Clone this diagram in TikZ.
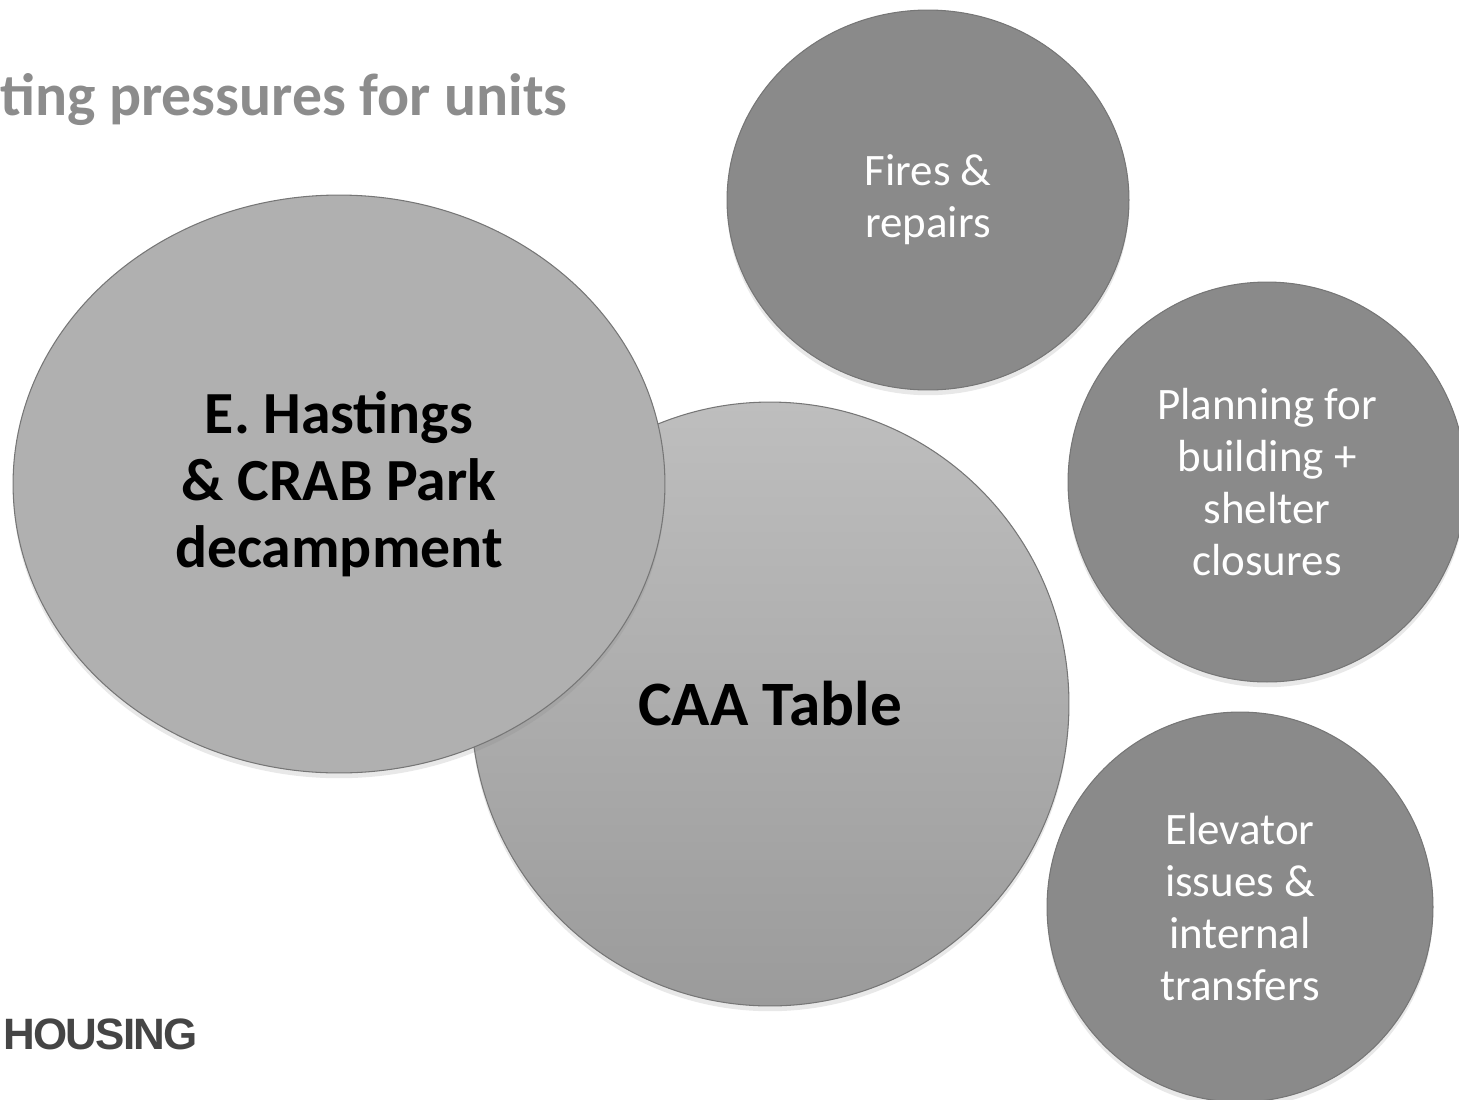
\documentclass[tikz,border=0pt]{standalone}
\usepackage{fontspec}
\setmainfont{Carlito}
\newfontfamily\housingfont[LetterSpace=-4]{Liberation Sans}
\usetikzlibrary{shapes.geometric,shadows}

\definecolor{bubblegray}{HTML}{8A8A8A}
\definecolor{bubbleedge}{HTML}{767676}
\definecolor{hastingsgray}{HTML}{B0B0B0}
\definecolor{caatop}{HTML}{BEBEBE}
\definecolor{caabottom}{HTML}{9B9B9B}
\definecolor{titlegray}{HTML}{8C8C8C}
\definecolor{housinggray}{HTML}{454545}

\tikzset{
  bubble/.style={ellipse, draw=bubbleedge, line width=0.6pt, inner sep=0pt, align=center,
    drop shadow={opacity=0.18, shadow xshift=0pt, shadow yshift=-3pt}},
  pressure/.style={bubble, fill=bubblegray, text=white, font=\fontsize{25.6}{29.5}\selectfont},
  bigbubble/.style={bubble, text=black, font=\fontsize{34}{38}\selectfont\bfseries}
}

\begin{document}
\begin{tikzpicture}[x=0.02cm, y=-0.02cm]
\useasboundingbox (0,0) rectangle (1459,1099);

% title and footer
\node (title) [anchor=base west, inner sep=0pt, text=titlegray, font=\fontsize{34}{38}\selectfont\bfseries] at (0,115) {ting pressures for units};
\node (housing) [anchor=base west, inner sep=0pt, text=housinggray, font=\housingfont\fontsize{25}{28}\selectfont\bfseries] at (3,1049) {HOUSING};

% the two big bubbles
\node (caa) [bigbubble, top color=caatop, bottom color=caabottom, minimum width=11.96cm, minimum height=12.08cm] at (770,704) {\fontsize{36}{40}\selectfont CAA Table};
\node (hastings) [bigbubble, fill=hastingsgray, minimum width=13.04cm, minimum height=11.56cm] at (339,484) {E. Hastings\\\& CRAB Park\\decampment};

% the smaller pressures
\node (fires) [pressure, minimum width=8.04cm, minimum height=7.6cm] at (928,200) {Fires \&\\repairs};
\node (planning) [pressure, minimum width=7.96cm, minimum height=8cm] at (1267,482) {Planning for\\building +\\shelter\\closures};
\node (elevator) [pressure, minimum width=7.72cm, minimum height=7.8cm] at (1240,907) {Elevator\\issues \&\\internal\\transfers};
\end{tikzpicture}
\end{document}
